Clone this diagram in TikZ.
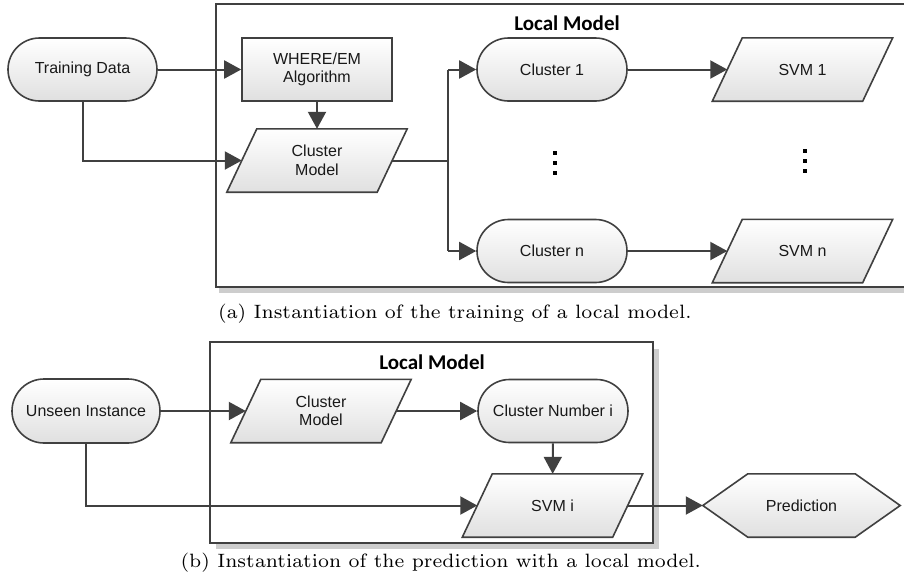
\documentclass[tikz,border=0pt]{standalone}
\usepackage{fontspec}
\newfontfamily\flowfont{Liberation Sans}
\newfontfamily\headfont{Carlito}
% caption face: Computer Modern at a small design size, scaled up
\font\capfont=cmr7 at 19.3pt
\usetikzlibrary{arrows.meta,backgrounds}
\definecolor{ink}{HTML}{404040}
\definecolor{shadegray}{HTML}{E0E0E0}
\definecolor{shadowgray}{HTML}{CDCDCD}
\begin{document}
\begin{tikzpicture}[x=1pt,y=-1pt,
  every node/.style={font=\flowfont\fontsize{16}{18.5}\selectfont, text=black!90, align=center, inner sep=0pt},
  body/.style={minimum width=150pt, minimum height=63pt},
  skin/.style={draw=ink, line width=1.6pt, top color=white, bottom color=shadegray},
  stadium/.style={body, skin, rounded corners=31.5pt},
  ln/.style={draw=ink, line width=2pt},
  arr/.style={ln, -{Triangle[length=17pt,width=18pt]}},
  frame/.style={draw=ink, line width=2pt},
  head/.style={font=\headfont\bfseries\fontsize{21}{25}\selectfont, text=black},
  caption/.style={font=\capfont, text=black}
]
\useasboundingbox (0,0) rectangle (904,587);

% ---------- (a) training ----------
\node[head] (heada) at (567,23) {Local Model};
\node[stadium, minimum width=149pt] (td) at (82.5,69.5) {Training Data};
\node[body, skin] (we) at (317,69.5) {WHERE/EM\\Algorithm};
\node[body] (cma) at (317,160.5) {Cluster\\Model};
\node[stadium] (c1) at (552,69.5) {Cluster 1};
\node[stadium] (cn) at (552,251) {Cluster n};
\node[body] (s1) at (802.5,69.5) {SVM 1};
\node[body] (sn) at (802.5,251) {SVM n};

% ---------- (b) prediction ----------
\node[head] (headb) at (432,362) {Local Model};
\node[stadium, minimum width=148pt, minimum height=64pt, rounded corners=32pt] (ui) at (86,411) {Unseen Instance};
\node[body] (cmb) at (321,411) {Cluster\\Model};
\node[stadium] (cni) at (553,411) {Cluster Number i};
\node[body] (svmi) at (552.5,505.5) {SVM i};
\node[minimum width=197pt, minimum height=63pt] (pred) at (801.5,505.5) {Prediction};

\node[caption, anchor=base] (capa) at (455,318) {(a) Instantiation of the training of a local model.};
\node[caption, anchor=base] (capb) at (441,567) {(b) Instantiation of the prediction with a local model.};

\begin{scope}[on background layer]
  % frames with their drop shadows
  \fill[shadowgray] (219,287) rectangle (904,293);
  \draw[frame, fill=white] (216,4) rectangle (912,287);
  \fill[shadowgray] (216,543) rectangle (659,549);
  \fill[shadowgray] (653,349) rectangle (659,549);
  \draw[frame, fill=white] (210,342) rectangle (653,543);
  % parallelograms (data shapes)
  \foreach \n in {cma,s1,sn,cmb,svmi}
    \path[skin] ([xshift=-15pt]\n.south west) -- ([xshift=15pt]\n.north west)
      -- ([xshift=15pt]\n.north east) -- ([xshift=-15pt]\n.south east) -- cycle;
  % hexagon (display shape)
  \path[skin] (pred.west) -- ([xshift=45pt]pred.north west) -- ([xshift=-45pt]pred.north east)
    -- (pred.east) -- ([xshift=-45pt]pred.south east) -- ([xshift=45pt]pred.south west) -- cycle;
\end{scope}

% vertical ellipses
\foreach \y in {153,163,173} \fill[black] ({555-1.6},{\y-1.6}) rectangle ++(3.2,3.2);
\foreach \y in {151,161,171} \fill[black] ({805-1.6},{\y-1.6}) rectangle ++(3.2,3.2);

% connectors (a)
\coordinate (fork) at (448,160.5);
\draw[arr] (td) -- (we);
\draw[arr] (td.south) |- (cma.west);
\draw[arr] (we) -- (cma);
\draw[ln] (cma.east) -- (fork);
\draw[ln] (fork |- c1) -- (fork |- cn);
\draw[arr] (fork |- c1) -- (c1);
\draw[arr] (fork |- cn) -- (cn);
\draw[arr] (c1) -- (s1);
\draw[arr] (cn) -- (sn);

% connectors (b)
\draw[arr] (ui) -- (cmb);
\draw[arr] (cmb) -- (cni);
\draw[arr] (cni) -- (svmi);
\draw[arr] (ui.south) |- (svmi.west);
\draw[arr] (svmi) -- (pred);
\end{tikzpicture}
\end{document}
